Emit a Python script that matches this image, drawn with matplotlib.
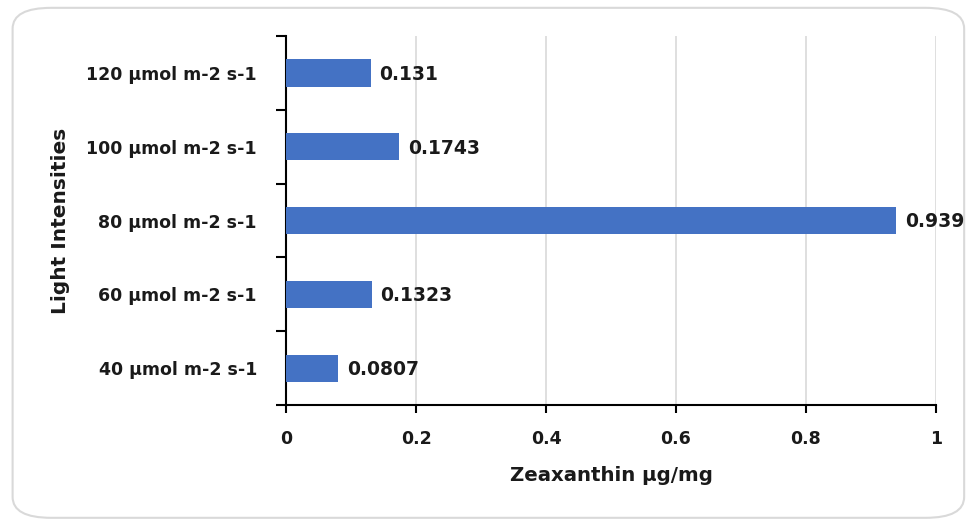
import matplotlib
matplotlib.use("Agg")
import matplotlib.pyplot as plt
from matplotlib.patches import FancyBboxPatch

# light intensity treatments and measured zeaxanthin content
categories = ["40 µmol m-2 s-1", "60 µmol m-2 s-1", "80 µmol m-2 s-1",
              "100 µmol m-2 s-1", "120 µmol m-2 s-1"]
zeaxanthin = [0.0807, 0.1323, 0.939, 0.1743, 0.131]
value_labels = ["0.0807", "0.1323", "0.939", "0.1743", "0.131"]
x_ticks = [0, 0.2, 0.4, 0.6, 0.8, 1]
x_tick_labels = ["0", "0.2", "0.4", "0.6", "0.8", "1"]

plt.rcParams["font.family"] = ["DejaVu Sans"]
plt.rcParams["font.weight"] = "bold"
TXT = "#1a1a1a"

fig = plt.figure(figsize=(9.69, 5.22), dpi=100)

# rounded chart-area border, kept behind the axes
border = FancyBboxPatch((0.013, 0.008), 0.982, 0.977,
                        boxstyle="round,pad=0,rounding_size=0.04",
                        transform=fig.transFigure, facecolor="white",
                        edgecolor="#d9d9d9", linewidth=1.5, zorder=-10)
fig.add_artist(border)

ax = fig.add_axes([0.2952, 0.224, 0.6707, 0.707])
ax.set_facecolor("none")
ax.set_zorder(5)

ypos = range(len(categories))
ax.barh(ypos, zeaxanthin, height=0.37, color="#4472C4", zorder=3)
for y, v, lbl in zip(ypos, zeaxanthin, value_labels):
    ax.annotate(lbl, (v, y), xytext=(6, -1), textcoords="offset points",
                va="center", ha="left", fontsize=13.5, fontweight="bold",
                color=TXT, zorder=4, annotation_clip=False)

ax.set_xlim(0, 1)
ax.set_ylim(-0.5, len(categories) - 0.5)
ax.set_xticks(x_ticks)
ax.set_xticklabels(x_tick_labels)
ax.set_yticks(list(ypos))
ax.set_yticklabels(categories)
ax.set_yticks([i - 0.5 for i in range(len(categories) + 1)], minor=True)

ax.tick_params(axis="y", which="major", length=0, pad=21, labelsize=12.5,
               labelcolor=TXT)
ax.tick_params(axis="y", which="minor", length=7, width=1.5, direction="out",
               color="black")
ax.tick_params(axis="x", which="major", length=6, width=1.5, direction="out",
               pad=12, labelsize=12.5, labelcolor=TXT)

ax.grid(axis="x", color="#d9d9d9", linewidth=1.2, zorder=0)
for side in ["top", "right"]:
    ax.spines[side].set_visible(False)
for side in ["left", "bottom"]:
    ax.spines[side].set_linewidth(1.5)
    ax.spines[side].set_color("black")

ax.set_xlabel("Zeaxanthin µg/mg", fontsize=14.2, fontweight="bold",
              color=TXT, labelpad=13)
ax.set_ylabel("Light Intensities", fontsize=14.5, fontweight="bold",
              color=TXT, labelpad=12)

fig.savefig("out.png", dpi=100, facecolor="white")
